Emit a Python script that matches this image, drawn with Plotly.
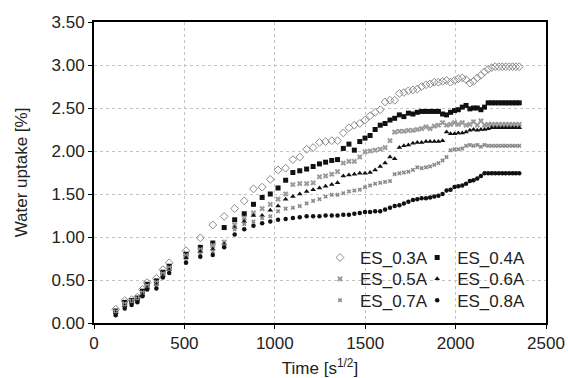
import plotly.graph_objects as go

# Measurement times, square root of seconds
time_sqrt_s = [
    120, 170, 208, 240, 268, 294, 345, 381, 416, 509, 588, 657, 720, 778,
    831, 882, 930, 975, 1018, 1060, 1100, 1138, 1176, 1212, 1247, 1281,
    1315, 1347, 1379, 1410, 1440, 1470, 1499, 1527, 1555, 1583, 1610, 1637,
    1663, 1689, 1714, 1739, 1764, 1788, 1812, 1836, 1859, 1882, 1905, 1928,
    1950, 1972, 1994, 2015, 2037, 2058, 2079, 2099, 2120, 2140, 2160, 2180,
    2200, 2219, 2239, 2258, 2277, 2296, 2315, 2333, 2352,
]

# Water uptake [%] per specimen
uptake_03A = [
    0.16, 0.26, 0.27, 0.30, 0.39, 0.47, 0.52, 0.62, 0.70, 0.84, 0.99, 1.14,
    1.24, 1.33, 1.42, 1.56, 1.58, 1.67, 1.78, 1.80, 1.90, 1.93, 2.02, 2.04,
    2.10, 2.11, 2.12, 2.12, 2.21, 2.27, 2.30, 2.32, 2.36, 2.41, 2.45, 2.48,
    2.57, 2.59, 2.59, 2.67, 2.68, 2.70, 2.71, 2.72, 2.75, 2.77, 2.78, 2.80,
    2.80, 2.81, 2.82, 2.80, 2.82, 2.84, 2.85, 2.83, 2.79, 2.81, 2.85, 2.88,
    2.92, 2.95, 2.97, 2.98, 2.98, 2.98, 2.98, 2.98, 2.98, 2.98, 2.98,
]
uptake_04A = [
    0.14, 0.24, 0.26, 0.29, 0.37, 0.45, 0.49, 0.59, 0.66, 0.80, 0.88, 0.93,
    1.11, 1.20, 1.27, 1.38, 1.46, 1.50, 1.57, 1.66, 1.75, 1.77, 1.79, 1.82,
    1.85, 1.87, 1.89, 1.90, 2.03, 2.08, 2.01, 2.11, 2.15, 2.18, 2.25, 2.30,
    2.32, 2.36, 2.38, 2.42, 2.40, 2.44, 2.43, 2.45, 2.46, 2.46, 2.46, 2.46,
    2.46, 2.43, 2.42, 2.45, 2.47, 2.48, 2.51, 2.53, 2.49, 2.50, 2.50, 2.48,
    2.51, 2.56, 2.56, 2.56, 2.56, 2.56, 2.56, 2.56, 2.56, 2.56, 2.56,
]
uptake_05A = [
    0.13, 0.22, 0.25, 0.28, 0.35, 0.43, 0.47, 0.57, 0.64, 0.78, 0.85, 0.90,
    0.94, 1.14, 1.22, 1.28, 1.33, 1.38, 1.44, 1.50, 1.61, 1.62, 1.62, 1.63,
    1.70, 1.71, 1.73, 1.76, 1.86, 1.88, 1.88, 1.93, 1.99, 2.00, 2.01, 2.02,
    2.04, 2.12, 2.22, 2.23, 2.23, 2.24, 2.24, 2.25, 2.26, 2.28, 2.26, 2.29,
    2.30, 2.33, 2.30, 2.31, 2.33, 2.31, 2.33, 2.30, 2.31, 2.34, 2.30, 2.35,
    2.30, 2.31, 2.31, 2.31, 2.31, 2.31, 2.31, 2.31, 2.31, 2.31, 2.31,
]
uptake_06A = [
    0.12, 0.20, 0.24, 0.27, 0.33, 0.41, 0.45, 0.55, 0.62, 0.76, 0.83, 0.86,
    0.92, 1.11, 1.18, 1.25, 1.25, 1.31, 1.36, 1.44, 1.47, 1.50, 1.53, 1.55,
    1.57, 1.59, 1.61, 1.63, 1.71, 1.72, 1.73, 1.74, 1.74, 1.75, 1.78, 1.82,
    1.86, 1.93, 1.91, 2.04, 2.06, 2.07, 2.09, 2.10, 2.10, 2.11, 2.11, 2.11,
    2.11, 2.12, 2.22, 2.20, 2.20, 2.21, 2.21, 2.22, 2.24, 2.25, 2.24, 2.25,
    2.25, 2.26, 2.27, 2.27, 2.27, 2.27, 2.27, 2.27, 2.27, 2.27, 2.27,
]
uptake_07A = [
    0.11, 0.19, 0.23, 0.26, 0.32, 0.40, 0.43, 0.54, 0.60, 0.72, 0.80, 0.83,
    0.90, 1.09, 1.15, 1.18, 1.22, 1.24, 1.30, 1.33, 1.34, 1.36, 1.39, 1.42,
    1.44, 1.47, 1.49, 1.49, 1.51, 1.53, 1.54, 1.55, 1.58, 1.60, 1.62, 1.63,
    1.64, 1.65, 1.73, 1.74, 1.75, 1.76, 1.78, 1.81, 1.80, 1.81, 1.82, 1.84,
    1.86, 1.89, 1.93, 2.01, 2.02, 2.02, 2.03, 2.06, 2.07, 2.06, 2.07, 2.05,
    2.07, 2.06, 2.06, 2.06, 2.06, 2.06, 2.06, 2.06, 2.06, 2.06, 2.06,
]
uptake_08A = [
    0.09, 0.17, 0.21, 0.24, 0.31, 0.39, 0.40, 0.53, 0.58, 0.70, 0.77, 0.79,
    0.88, 1.03, 1.09, 1.13, 1.16, 1.18, 1.20, 1.21, 1.22, 1.23, 1.24, 1.24,
    1.24, 1.25, 1.25, 1.25, 1.26, 1.26, 1.27, 1.28, 1.29, 1.29, 1.30, 1.30,
    1.32, 1.34, 1.36, 1.37, 1.39, 1.41, 1.43, 1.44, 1.45, 1.45, 1.46, 1.47,
    1.48, 1.50, 1.54, 1.55, 1.58, 1.59, 1.60, 1.62, 1.65, 1.66, 1.68, 1.71,
    1.74, 1.74, 1.74, 1.74, 1.74, 1.74, 1.74, 1.74, 1.74, 1.74, 1.74,
]

series_names = ["ES_0.3A", "ES_0.4A", "ES_0.5A", "ES_0.6A", "ES_0.7A", "ES_0.8A"]
series_values = [uptake_03A, uptake_04A, uptake_05A, uptake_06A, uptake_07A, uptake_08A]

# marker style per series: (symbol, size, colour, outline width)
styles = [
    ("diamond-open", 6, "#8a8a8a", 1.0),
    ("square", 5, "#111111", 0),
    ("x", 5, "#9a9a9a", 0),
    ("triangle-up", 5, "#111111", 0),
    ("x", 4, "#8a8a8a", 0),
    ("circle", 4.5, "#111111", 0),
]

# legend grid: two columns, three rows (each entry gets its own legend box)
legend_ids = ["legend", "legend2", "legend3", "legend4", "legend5", "legend6"]
legend_cols = [0.500, 0.715, 0.500, 0.715, 0.500, 0.715]
legend_rows = [0.276, 0.276, 0.205, 0.205, 0.134, 0.134]

FONT = "Arial, Liberation Sans, sans-serif"

fig = go.Figure()
for name, vals, (sym, size, col, lw), lg in zip(series_names, series_values, styles, legend_ids):
    fig.add_trace(go.Scatter(
        x=time_sqrt_s, y=vals, mode="markers", name=name, legend=lg,
        showlegend=True,
        marker=dict(symbol=sym, size=size, color=col,
                    line=dict(width=lw, color=col)),
    ))

axis_common = dict(
    showline=True, linecolor="black", linewidth=2, mirror=True,
    ticks="outside", ticklen=4, tickwidth=1, tickcolor="black",
    showgrid=True, gridcolor="#c4c4c4", griddash="dot", gridwidth=1,
    zeroline=False, automargin=False,
    tickfont=dict(family=FONT, size=17, color="#222"),
)

fig.update_xaxes(range=[0, 2500], tickvals=[0, 500, 1000, 1500, 2000, 2500],
                 title=dict(text="Time [s<sup>1/2</sup>]",
                            font=dict(family=FONT, size=17, color="#222"),
                            standoff=18),
                 **axis_common)
fig.update_yaxes(range=[0, 3.5], tickvals=[0, 0.5, 1, 1.5, 2, 2.5, 3, 3.5],
                 tickformat=".2f",
                 title=dict(text="Water uptake [%]",
                            font=dict(family=FONT, size=17, color="#222"),
                            standoff=20),
                 **axis_common)

legend_common = dict(
    bgcolor="rgba(0,0,0,0)", borderwidth=0, yanchor="top", xanchor="left",
    font=dict(family=FONT, size=17, color="#222"), itemwidth=30,
)
legend_layout = {
    lid: dict(x=lx, y=ly, **legend_common)
    for lid, lx, ly in zip(legend_ids, legend_cols, legend_rows)
}

fig.update_layout(
    width=568, height=378,
    margin=dict(l=94, r=22, t=22, b=55),
    paper_bgcolor="white", plot_bgcolor="white",
    font=dict(family=FONT, color="#222"),
    showlegend=True,
    **legend_layout,
)

fig.write_html("out.html")
